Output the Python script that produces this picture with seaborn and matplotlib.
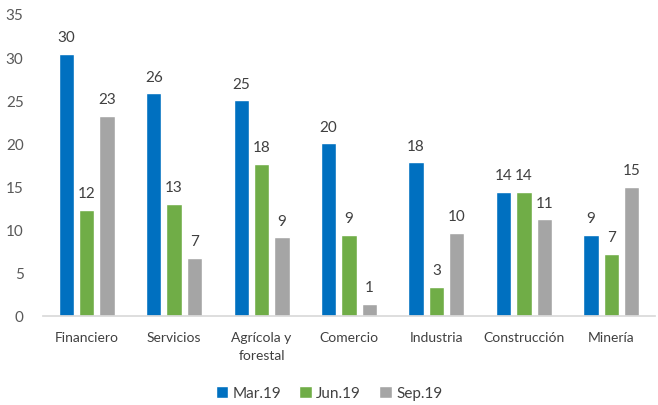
import matplotlib
matplotlib.use("Agg")
import matplotlib.pyplot as plt
import seaborn as sns
import pandas as pd

# sectors and quarterly values
sectores = ["Financiero", "Servicios", "Agrícola y\nforestal", "Comercio",
            "Industria", "Construcción", "Minería"]
periodos = ["Mar.19", "Jun.19", "Sep.19"]
mar19 = [30.4, 25.8, 25.0, 20.0, 17.8, 14.4, 9.4]
jun19 = [12.3, 13.0, 17.6, 9.4, 3.4, 14.4, 7.2]
sep19 = [23.2, 6.7, 9.1, 1.4, 9.6, 11.2, 15.0]

colores = ["#0070C0", "#70AD47", "#A5A5A5"]

df = pd.DataFrame({
    "sector": sectores * 3,
    "periodo": [p for p in periodos for _ in sectores],
    "valor": mar19 + jun19 + sep19,
})

sns.set_theme(style="white")
plt.rcParams["font.family"] = ["Lato", "DejaVu Sans"]

fig = plt.figure(figsize=(6.58, 4.06), dpi=100)
ax = fig.add_axes([43 / 658, 1 - 317 / 406, 612 / 658, 302 / 406])

sns.barplot(data=df, x="sector", y="valor", hue="periodo", order=sectores,
            hue_order=periodos, palette=colores, width=0.70, gap=0.25,
            saturation=1, ax=ax)

for cont in ax.containers:
    ax.bar_label(cont, fmt="%.0f", padding=7, fontsize=11, color="#404040")

ax.set_ylim(0, 35)
ax.set_xlim(-0.5, 6.5)
ax.set_yticks(range(0, 36, 5))
ax.set_xlabel("")
ax.set_ylabel("")
ax.tick_params(axis="y", labelsize=11, labelcolor="#595959", length=0, pad=14)
ax.tick_params(axis="x", labelsize=10, labelcolor="#404040", length=0, pad=11)
for lbl in ax.get_xticklabels():
    lbl.set_linespacing(1.6)
for s in ["top", "right", "left"]:
    ax.spines[s].set_visible(False)
ax.spines["bottom"].set_color("#D9D9D9")

ax.legend(loc="center", bbox_to_anchor=(329 / 658, 1 - 394 / 406),
          bbox_transform=fig.transFigure, ncol=3, frameon=False,
          fontsize=11, handlelength=0.8, handleheight=0.8,
          handletextpad=0.3, columnspacing=1.2, labelcolor="#404040",
          borderpad=0.1)

fig.savefig("out.png", dpi=100)
